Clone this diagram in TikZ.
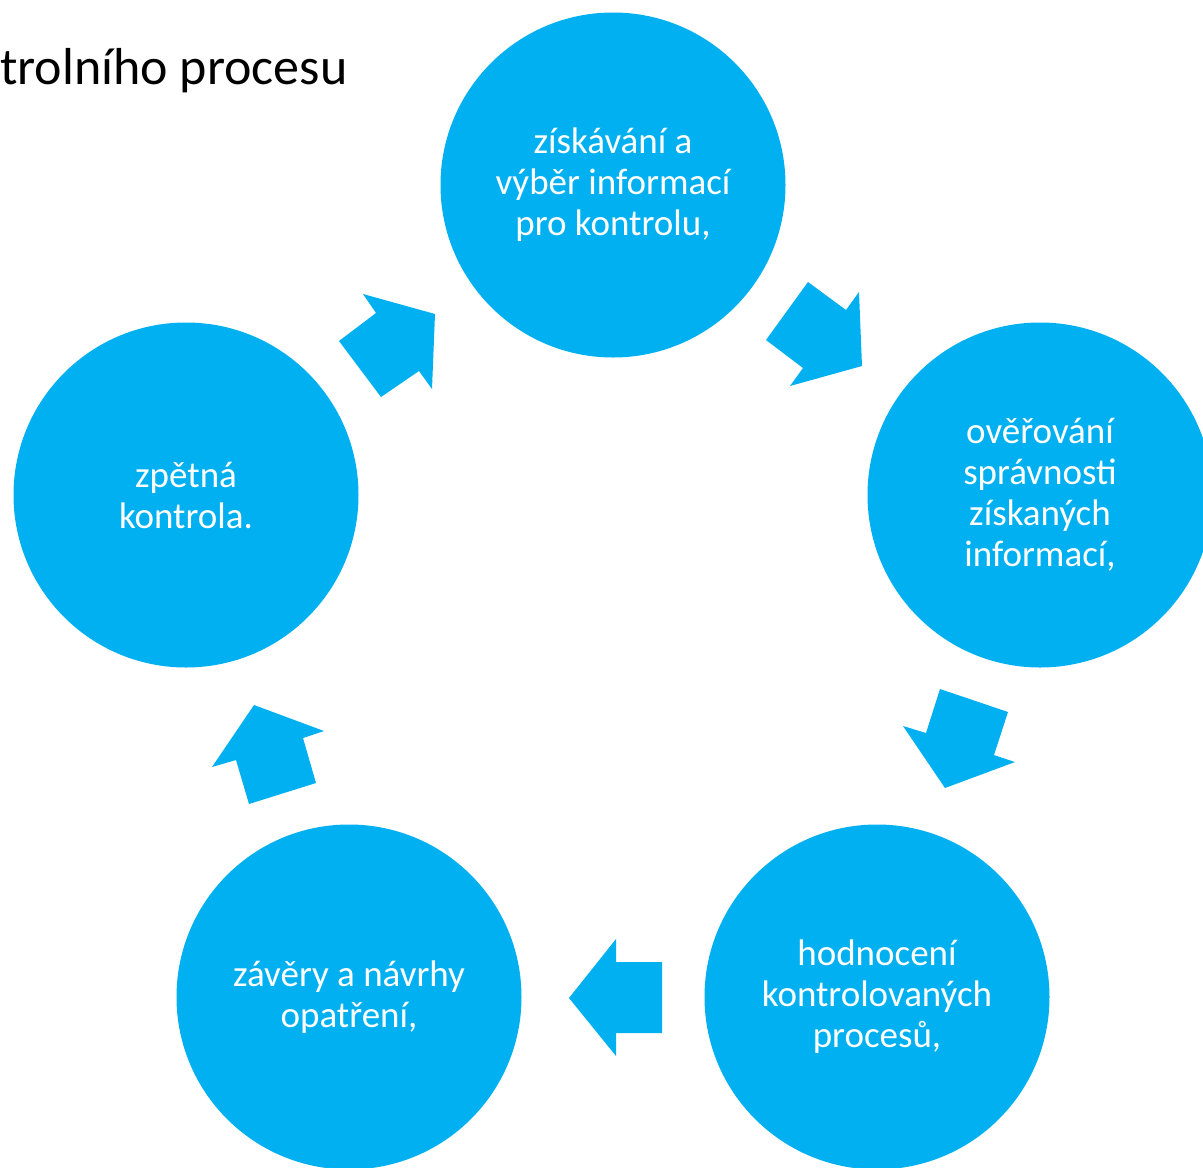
\documentclass[tikz,border=0pt]{standalone}
\usepackage{fontspec}
\setmainfont{Carlito}
\definecolor{sablue}{RGB}{0,176,240}
\begin{document}
\begin{tikzpicture}[x=1pt,y=-1pt,
  stepcircle/.style={circle,fill=sablue,minimum size=345pt,inner sep=0pt,text=white,align=center,
    font=\fontsize{37}{41}\selectfont},
  blockarrow/.style={fill=sablue,draw=none}]
\useasboundingbox (0,0) rectangle (1203,1168);
\node[anchor=base west,font=\fontsize{52}{60}\selectfont,inner sep=0pt] (title) at (0,84) {trolního procesu};
\node[stepcircle] (c1) at (613,185) {získávání a\\výběr informací\\pro kontrolu,};
\node[stepcircle] (c2) at (1040,495) {ověřování\\správnosti\\získaných\\informací,};
\node[stepcircle] (c3) at (877,997) {hodnocení\\kontrolovaných\\procesů,};
\node[stepcircle] (c4) at (349,997) {závěry a návrhy\\opatření,};
\node[stepcircle] (c5) at (186,495) {zpětná\\kontrola.};
% block arrows
\fill[blockarrow] (339,341) -- (376,313) -- (363,294) -- (435,314) -- (432,389) -- (419,371) -- (381,397) -- cycle;
\fill[blockarrow] (808,282) -- (846,310) -- (859,292) -- (862,366) -- (790,386) -- (803,368) -- (766,340) -- cycle;
\fill[blockarrow] (1008,712) -- (994,755) -- (1015,762) -- (945,788) -- (903,726) -- (926,733) -- (940,689) -- cycle;
\fill[blockarrow] (662,962) -- (616,962) -- (616,939) -- (569,998) -- (616,1056) -- (616,1033) -- (662,1033) -- cycle;
\fill[blockarrow] (249,804) -- (236,760) -- (212,767) -- (254,705) -- (324,731) -- (303,738) -- (316,783) -- cycle;
\end{tikzpicture}
\end{document}
